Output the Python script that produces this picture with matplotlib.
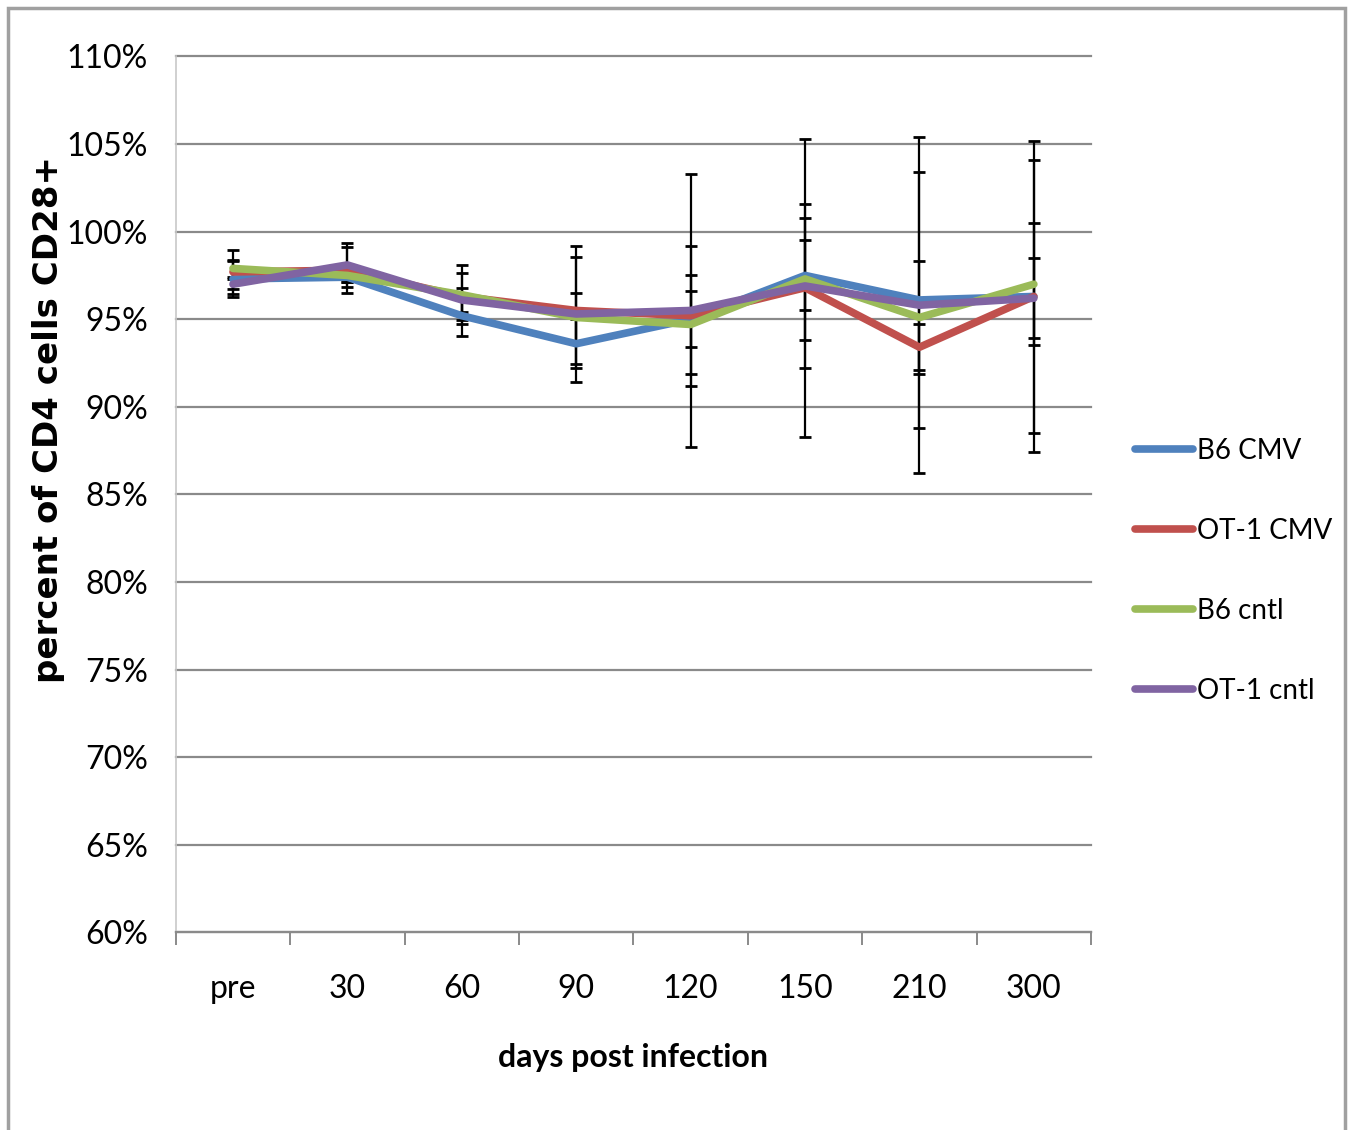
import matplotlib
matplotlib.use("Agg")
import matplotlib.pyplot as plt
import numpy as np
from matplotlib.patches import Rectangle

# Data (percent of CD4 cells CD28+)
days = ["pre", "30", "60", "90", "120", "150", "210", "300"]
series_names = ["B6 CMV", "OT-1 CMV", "B6 cntl", "OT-1 cntl"]
colors = ["#4F81BD", "#C0504D", "#9BBB59", "#8064A2"]

b6_cmv = [97.3, 97.4, 95.2, 93.6, 95.0, 97.5, 96.1, 96.3]
ot1_cmv = [97.7, 97.8, 96.3, 95.5, 95.2, 96.8, 93.4, 96.3]
b6_cntl = [97.9, 97.5, 96.4, 95.1, 94.7, 97.3, 95.1, 97.0]
ot1_cntl = [97.0, 98.1, 96.1, 95.3, 95.5, 96.9, 95.8, 96.2]

b6_cmv_err = [1.05, 0.3, 1.15, 1.4, 1.6, 2.0, 7.3, 7.8]
ot1_cmv_err = [1.25, 1.3, 1.35, 3.05, 4.0, 8.5, 1.3, 8.9]
b6_cntl_err = [0.5, 0.35, 1.7, 1.4, 2.8, 3.5, 3.2, 3.5]
ot1_cntl_err = [0.3, 1.25, 0.7, 3.9, 7.8, 4.7, 9.6, 2.3]

values = [b6_cmv, ot1_cmv, b6_cntl, ot1_cntl]
errors = [b6_cmv_err, ot1_cmv_err, b6_cntl_err, ot1_cntl_err]

NARROW = ["Lato", "DejaVu Sans"]

fig = plt.figure(figsize=(13.52, 11.3), dpi=100)
ax = fig.add_axes([0.130, 0.175, 0.677, 0.775])

x = np.arange(len(days))

# error bars under the lines
for vals, errs in zip(values, errors):
    ax.errorbar(x, vals, yerr=errs, fmt="none", ecolor="black",
                elinewidth=1.6, capsize=4.5, capthick=2, zorder=2)

for name, vals, c in zip(series_names, values, colors):
    ax.plot(x, vals, color=c, lw=5.5, label=name, zorder=3,
            solid_capstyle="round", solid_joinstyle="round")

ax.set_xlim(-0.5, len(days) - 0.5)
ax.set_ylim(60, 110)
ax.set_yticks(np.arange(60, 111, 5))
ax.set_yticklabels([f"{v}%" for v in range(60, 111, 5)], family=NARROW, fontsize=23)
ax.set_xticks(x)
ax.set_xticklabels(days, family=NARROW, fontsize=23)
ax.set_xticks(np.arange(-0.5, len(days)), minor=True)

ax.grid(axis="y", color="#8a8a8a", lw=1.6, zorder=0)
ax.set_axisbelow(True)
for gl in ax.get_ygridlines():
    gl.set_clip_on(False)
for s in ["top", "right"]:
    ax.spines[s].set_visible(False)
ax.spines["left"].set_color("#c8c8c8")
ax.spines["left"].set_linewidth(1.2)
ax.spines["bottom"].set_color("#8a8a8a")
ax.spines["bottom"].set_linewidth(1.6)
ax.tick_params(axis="x", which="major", length=0, pad=30)
ax.tick_params(axis="x", which="minor", length=9, color="#8a8a8a", width=1.4)
ax.tick_params(axis="y", length=0, pad=20)

ax.set_ylabel("percent of CD4 cells CD28+", fontsize=24.5, fontweight="bold")
ax.yaxis.set_label_coords(-0.121, 0.585)
ax.set_xlabel("days post infection", family=NARROW, fontsize=23, fontweight="bold")
ax.xaxis.set_label_coords(0.5, -0.126)

leg = ax.legend(loc="center left", bbox_to_anchor=(1.048, 0.4126), frameon=False,
                prop={"family": NARROW, "size": 20}, handlelength=2.1,
                handletextpad=0.15, labelspacing=1.95, borderpad=0, borderaxespad=0)
for line in leg.get_lines():
    line.set_linewidth(5.5)

# outer frame
fig.patches.append(Rectangle((0.006, -0.01), 0.989, 1.003, transform=fig.transFigure,
                             fill=False, edgecolor="#a0a0a0", lw=2.5))

fig.savefig("out.png", dpi=100)
